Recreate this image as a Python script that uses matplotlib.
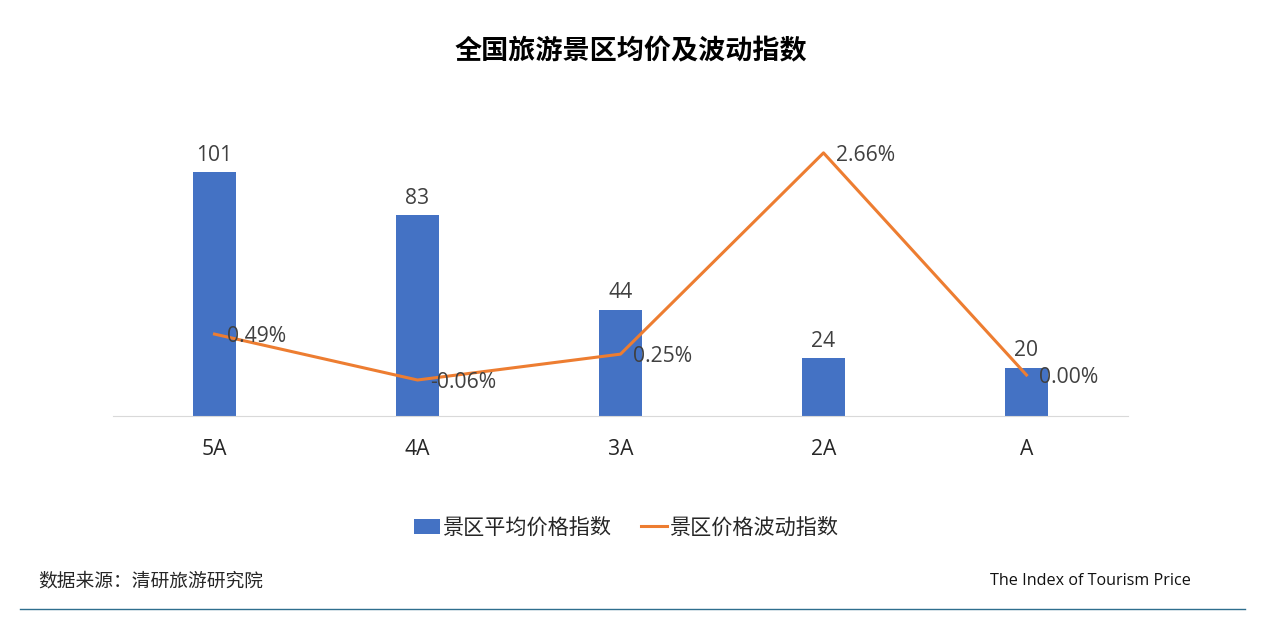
import matplotlib
matplotlib.use('Agg')
import matplotlib.pyplot as plt

plt.rcParams['font.family'] = ['Open Sans', 'Noto Sans CJK SC', 'DejaVu Sans']

categories = ['5A', '4A', '3A', '2A', 'A']
avg_price = [101, 83, 44, 24, 20]
volatility = [0.49, -0.06, 0.25, 2.66, 0.00]

W, H = 1280, 627
fig = plt.figure(figsize=(W / 100, H / 100), dpi=100)

# 柱状图区域
ax = fig.add_axes([113 / W, 1 - 416 / H, 1015 / W, 330 / H])
x = list(range(len(categories)))
bars = ax.bar(x, avg_price, width=0.21, color='#4472C4', label='景区平均价格指数')
ax.set_xlim(-0.5, 4.5)
ax.set_ylim(0, 136.6)
for s in ['top', 'left', 'right']:
    ax.spines[s].set_visible(False)
ax.spines['bottom'].set_color('#D9D9D9')
ax.set_yticks([])
ax.set_xticks(x)
ax.set_xticklabels(categories, fontsize=15.2, color='#262626')
ax.tick_params(axis='x', length=0, pad=16.5)
for xi, v in zip(x, avg_price):
    ax.annotate(str(v), (xi, v), xytext=(0, 4.5), textcoords='offset points',
                ha='center', va='bottom', fontsize=15.2, color='#404040')

# 折线 次坐标轴
ax2 = ax.twinx()
line, = ax2.plot(x, volatility, color='#ED7D31', linewidth=2.2, label='景区价格波动指数')
ax2.set_ylim(-0.491, 3.461)
ax2.axis('off')
for xi, v in zip(x, volatility):
    ax2.annotate(f'{v:.2f}%', (xi, v), xytext=(9, -2), textcoords='offset points',
                 ha='left', va='center', fontsize=15.2, color='#404040')

fig.text(631 / W, 1 - 52 / H, '全国旅游景区均价及波动指数', ha='center', va='center',
         fontsize=19.5, fontweight='bold', color='black')
fig.legend([bars, line], ['景区平均价格指数', '景区价格波动指数'], loc='center',
           bbox_to_anchor=(626 / W, 1 - 528 / H), ncol=2, frameon=False, fontsize=15.2,
           handlelength=1.25, handletextpad=0.1, columnspacing=1.4, labelcolor='#262626')
fig.text(38 / W, 1 - 581 / H, '数据来源：清研旅游研究院', ha='left', va='center',
         fontsize=13.5, color='#262626')
fig.text(990 / W, 1 - 581 / H, 'The Index of Tourism Price', ha='left', va='center',
         fontsize=11.6, color='#111111')
fig.add_artist(plt.Line2D([20 / W, 1245 / W], [1 - 609 / H, 1 - 609 / H], color='#2E6E8E', linewidth=1))

fig.savefig('out.png', dpi=100)
